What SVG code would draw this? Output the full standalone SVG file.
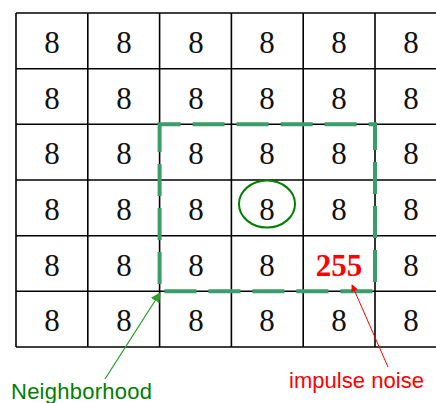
<svg xmlns="http://www.w3.org/2000/svg" width="436" height="403" viewBox="0 0 436 403">
<style>
.g{stroke:#000;stroke-width:1.6;fill:none}
text.d{font-family:"Liberation Serif","Times New Roman",serif;font-size:31px;fill:#111;text-anchor:middle;font-weight:normal}
.lab{font-family:"Liberation Sans",Arial,sans-serif;font-size:22px}
</style>
<defs>
<marker id="ag" viewBox="0 0 10 10" refX="9" refY="5" markerWidth="10" markerHeight="10" markerUnits="userSpaceOnUse" orient="auto"><path d="M0,0 L10,5 L0,10 z" fill="#2ea02e"/></marker>
<marker id="ar" viewBox="0 0 10 10" refX="9" refY="5" markerWidth="8" markerHeight="7" markerUnits="userSpaceOnUse" orient="auto"><path d="M0,0 L10,5 L0,10 z" fill="#ff0000"/></marker>
</defs>
<rect width="436" height="403" fill="#fff"/>
<g id="grid" class="g">
<line x1="16" y1="13" x2="447" y2="13"/>
<line x1="16" y1="68.7" x2="447" y2="68.7"/>
<line x1="16" y1="124.3" x2="447" y2="124.3"/>
<line x1="16" y1="180" x2="447" y2="180"/>
<line x1="16" y1="235.7" x2="447" y2="235.7"/>
<line x1="16" y1="291.3" x2="447" y2="291.3"/>
<line x1="16" y1="347" x2="447" y2="347"/>
<line x1="16" y1="13" x2="16" y2="347"/>
<line x1="87.8" y1="13" x2="87.8" y2="347"/>
<line x1="159.6" y1="13" x2="159.6" y2="347"/>
<line x1="231.4" y1="13" x2="231.4" y2="347"/>
<line x1="303.2" y1="13" x2="303.2" y2="347"/>
<line x1="375" y1="13" x2="375" y2="347"/>
</g>
<g id="values" font-family="'Liberation Serif','Times New Roman',serif">
<text class="d" x="52" y="53">8</text><text class="d" x="124" y="53">8</text><text class="d" x="196" y="53">8</text><text class="d" x="267" y="53">8</text><text class="d" x="339" y="53">8</text><text class="d" x="411" y="53">8</text>
<text class="d" x="52" y="108.7">8</text><text class="d" x="124" y="108.7">8</text><text class="d" x="196" y="108.7">8</text><text class="d" x="267" y="108.7">8</text><text class="d" x="339" y="108.7">8</text><text class="d" x="411" y="108.7">8</text>
<text class="d" x="52" y="164.3">8</text><text class="d" x="124" y="164.3">8</text><text class="d" x="196" y="164.3">8</text><text class="d" x="267" y="164.3">8</text><text class="d" x="339" y="164.3">8</text><text class="d" x="411" y="164.3">8</text>
<text class="d" x="52" y="220">8</text><text class="d" x="124" y="220">8</text><text class="d" x="196" y="220">8</text><text class="d" x="339" y="220">8</text><text class="d" x="411" y="220">8</text>
<text class="d" x="52" y="275.7">8</text><text class="d" x="124" y="275.7">8</text><text class="d" x="196" y="275.7">8</text><text class="d" x="267" y="275.7">8</text><text class="d" x="411" y="275.7">8</text>
<text class="d" x="52" y="331.3">8</text><text class="d" x="124" y="331.3">8</text><text class="d" x="196" y="331.3">8</text><text class="d" x="267" y="331.3">8</text><text class="d" x="339" y="331.3">8</text><text class="d" x="411" y="331.3">8</text>
</g>
<g id="center">
<text class="d" x="267" y="220">8</text>
<ellipse cx="267" cy="204" rx="28" ry="23.5" fill="none" stroke="#008000" stroke-width="2"/>
</g>
<g id="noise">
<text x="339" y="276" font-family="'Liberation Serif','Times New Roman',serif" font-size="31" font-weight="bold" fill="#ff0000" text-anchor="middle">255</text>
</g>
<g id="neighborhood">
<rect x="159.6" y="124.3" width="215.4" height="167" fill="none" stroke="#3a9d6a" stroke-width="4" stroke-dasharray="32 12" stroke-dashoffset="11"/>
</g>
<g id="connectors">
<line x1="105" y1="379" x2="160" y2="293" stroke="#2ea02e" stroke-width="1.3" marker-end="url(#ag)"/>
<line x1="388" y1="367" x2="352" y2="285" stroke="#ff0000" stroke-width="1" marker-end="url(#ar)"/>
</g>
<g id="labels">
<text class="lab" x="11" y="399" fill="#008000" font-size="22.5" textLength="141">Neighborhood</text>
<text class="lab" x="289" y="388" fill="#ff0000" textLength="135">impulse noise</text>
</g>
</svg>
